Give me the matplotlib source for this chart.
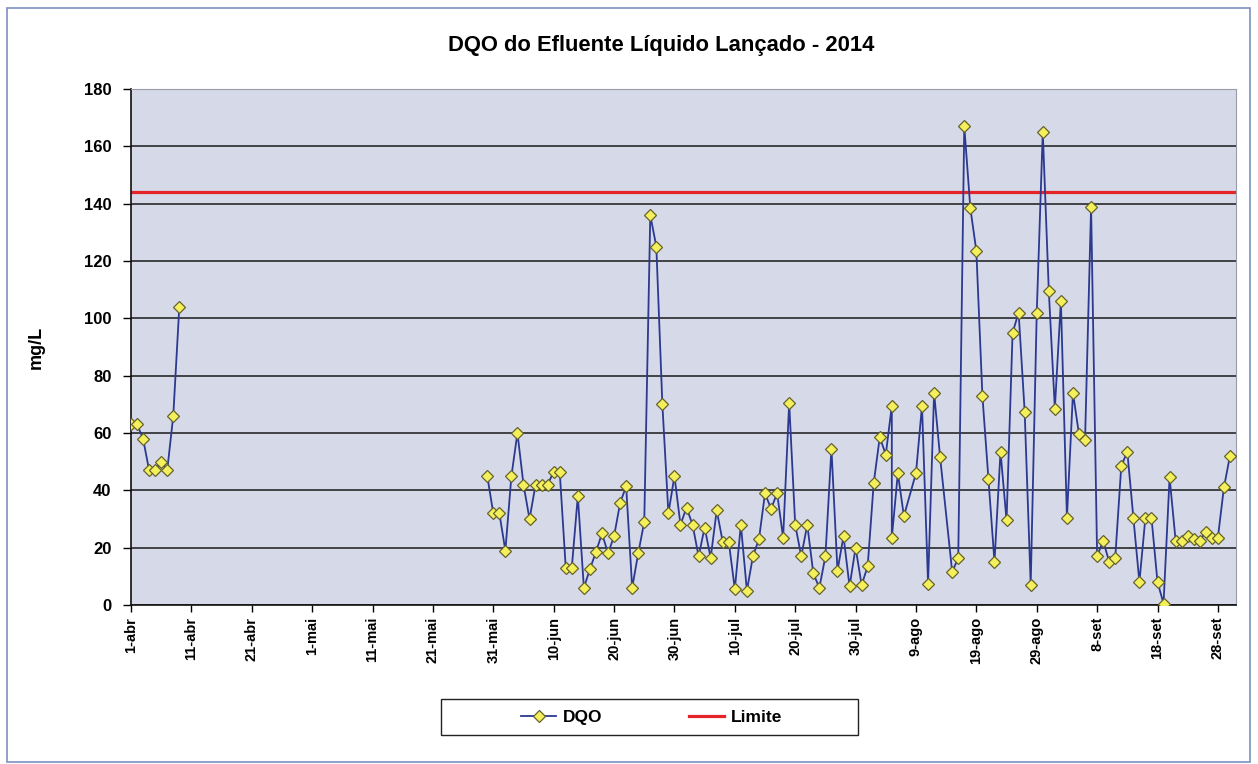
import numpy as np
import matplotlib
matplotlib.use('Agg')
import matplotlib.pyplot as plt
from matplotlib.patches import Rectangle

plt.rcParams['font.family'] = ['Liberation Sans', 'DejaVu Sans']
plt.rcParams['font.weight'] = 'bold'

start = np.datetime64('2014-04-01')

# days after 1-abr and DQO values (mg/L)
dqo_day = [0, 1, 2, 3, 4, 5, 6, 7, 8,
           59, 60, 61, 62, 63, 64, 65, 66, 67, 68, 69, 70, 71, 72, 73, 74,
           75, 76, 77, 78, 79, 80, 81, 82, 83, 84, 85, 86, 87, 88, 89, 90,
           91, 92, 93, 94, 95, 96, 97, 98, 99, 100, 101, 102, 103, 104, 105,
           106, 107, 108, 109, 110, 111, 112, 113, 114, 115, 116, 117, 118,
           119, 120, 121, 122, 123, 124, 125, 126, 126, 127, 128, 130, 131,
           132, 133, 134, 136, 137, 138, 139, 140, 141, 142, 143, 144, 145,
           146, 147, 148, 149, 150, 151, 152, 153, 154, 155, 156, 157, 158,
           159, 160, 161, 162, 163, 164, 165, 166, 167, 168, 169, 170, 171,
           172, 173, 174, 175, 176, 177, 178, 179, 180, 181, 182]
dqo_val = [63, 63, 58, 47, 47, 50, 47, 66, 104,
           45, 32, 32, 19, 45, 60, 42, 30, 42, 42, 42, 46.5, 46.5, 13, 13, 38,
           6, 12.5, 18.5, 25, 18, 24, 35.5, 41.5, 6, 18, 29, 136, 125, 70, 32, 45,
           28, 34, 28, 17, 27, 16.5, 33, 22, 22, 5.5, 28, 5, 17, 23, 39,
           33.5, 39, 23.5, 70.5, 28, 17, 28, 11, 6, 17, 54.5, 12, 24,
           6.5, 20, 7, 13.5, 42.5, 58.5, 52.5, 69.5, 23.5, 46, 31, 46, 69.5,
           7.5, 74, 51.5, 11.5, 16.5, 167, 138.5, 123.5, 73, 44, 15, 53.5, 29.5,
           95, 102, 67.5, 7, 102, 165, 109.5, 68.5, 106, 30.5, 74, 59.5, 57.5,
           139, 17, 22.5, 15, 16.5, 48.5, 53.5, 30.5, 8, 30.5, 30.5, 8, 0.5,
           44.5, 22.5, 22.5, 24, 23, 22.5, 25.5, 23.5, 23.5, 41, 52]
limite = 144

tick_days = list(range(0, 181, 10))
tick_labels = ['1-abr', '11-abr', '21-abr', '1-mai', '11-mai', '21-mai', '31-mai',
               '10-jun', '20-jun', '30-jun', '10-jul', '20-jul', '30-jul',
               '9-ago', '19-ago', '29-ago', '8-set', '18-set', '28-set']

days = np.array(dqo_day)
vals = np.array(dqo_val, dtype=float)
dates = start + days.astype('timedelta64[D]')
tick_dates = start + np.array(tick_days).astype('timedelta64[D]')

fig = plt.figure(figsize=(12.58, 7.64), dpi=100)
fig.patches.append(Rectangle((7 / 1258, 2 / 764), 1243 / 1258, 754 / 764,
                             transform=fig.transFigure, fill=False,
                             edgecolor='#7d90c0', linewidth=1.2))

ax = fig.add_axes([131 / 1258, 1 - 605 / 764, 1105 / 1258, 516 / 764])
ax.set_facecolor('#d6d9e8')

# break the line where there is no data for a long stretch
breaks = np.where(np.diff(days) > 10)[0] + 1
first = True
for d, v in zip(np.split(dates, breaks), np.split(vals, breaks)):
    ax.plot(d, v, color='#2b3990', linewidth=1.3, marker='D', markersize=6.5,
            markerfacecolor='#f3f05c', markeredgecolor='#66622a',
            markeredgewidth=0.9, label='DQO' if first else None, zorder=3)
    first = False

ax.axhline(limite, color='#e5242a', linewidth=2.3, label='Limite', zorder=2)

ax.set_xlim(start, start + np.timedelta64(183, 'D'))
ax.set_ylim(0, 180)
ax.set_yticks(range(0, 181, 20))
ax.set_xticks(tick_dates)
ax.set_xticklabels(tick_labels, rotation=90, fontsize=10.5, fontweight='bold')
ax.tick_params(axis='y', labelsize=12, length=6, width=1, pad=8)
ax.tick_params(axis='x', length=5, width=1)
ax.grid(axis='y', color='#1a1a1a', linewidth=1.1)
ax.set_axisbelow(True)

for s in ['top', 'right']:
    ax.spines[s].set_color('#9a9aa8')
    ax.spines[s].set_linewidth(0.8)
for s in ['left', 'bottom']:
    ax.spines[s].set_color('#111111')
    ax.spines[s].set_linewidth(1.2)

ax.set_ylabel('mg/L', fontsize=13, fontweight='bold')
ax.yaxis.set_label_coords(-0.078, 0.5)

fig.text(661 / 1258, 1 - 45 / 764, 'DQO do Efluente Líquido Lançado - 2014',
         ha='center', va='center', fontsize=15.8, fontweight='bold')

# legend box drawn separately so its width matches the original
fig.patches.append(Rectangle((441 / 1258, 1 - 735 / 764), 417 / 1258, 36 / 764,
                             transform=fig.transFigure, fill=False,
                             edgecolor='#222222', linewidth=1.0))
leg = ax.legend(loc='center', bbox_to_anchor=(652 / 1258, 1 - 717 / 764),
                bbox_transform=fig.transFigure, ncol=2, frameon=False,
                handlelength=2.0, handletextpad=0.4, columnspacing=5.0,
                prop={'weight': 'bold', 'size': 12.5})
for line in leg.get_lines():
    line.set_markersize(6)

fig.savefig('out.png', dpi=100, facecolor='white')
